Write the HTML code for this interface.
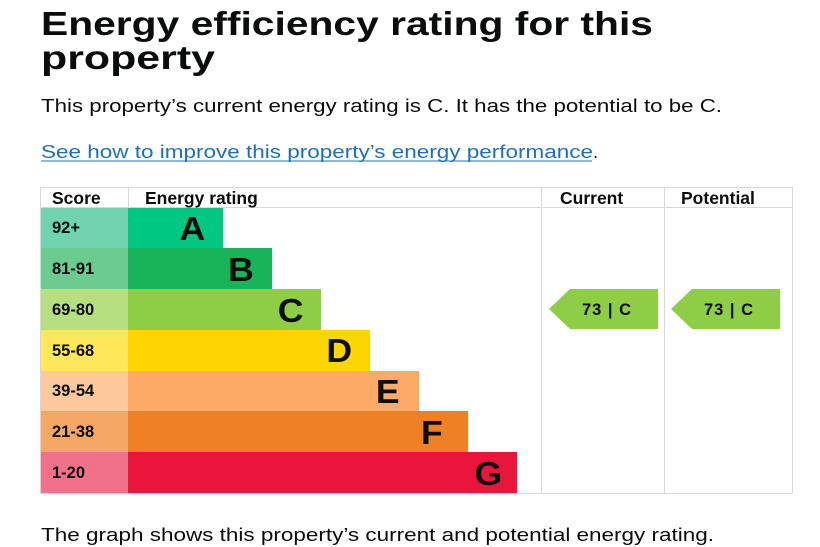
<!DOCTYPE html>
<html><head><meta charset="utf-8"><style>
html,body{margin:0;padding:0;background:#fff;width:820px;height:547px;overflow:hidden}
svg{display:block}
text{font-family:"Liberation Sans",sans-serif}
</style></head><body>
<svg width="820" height="547" viewBox="0 0 820 547">
<text x="41" y="35" font-size="33" font-weight="bold" fill="#0b0c0c" textLength="612" lengthAdjust="spacingAndGlyphs">Energy efficiency rating for this</text>
<text x="41" y="69" font-size="33" font-weight="bold" fill="#0b0c0c" textLength="174" lengthAdjust="spacingAndGlyphs">property</text>
<text x="41" y="112" font-size="18.5" fill="#0b0c0c" textLength="681" lengthAdjust="spacingAndGlyphs">This property’s current energy rating is C. It has the potential to be C.</text>
<text x="41" y="158" font-size="18.5" fill="#1d70b8" textLength="552" lengthAdjust="spacingAndGlyphs">See how to improve this property’s energy performance</text>
<line x1="41" y1="161" x2="592" y2="161" stroke="#1d70b8" stroke-width="1"/>
<text x="593" y="158" font-size="18.5" fill="#0b0c0c">.</text>
<text x="41" y="541" font-size="18.5" fill="#0b0c0c" textLength="673" lengthAdjust="spacingAndGlyphs">The graph shows this property’s current and potential energy rating.</text>

<g stroke="#d8d8d8" stroke-width="1" fill="none">
<line x1="40" y1="187.5" x2="792" y2="187.5"/>
<line x1="40" y1="207.5" x2="792" y2="207.5"/>
<line x1="40.5" y1="187" x2="40.5" y2="493"/>
<line x1="128.5" y1="187" x2="128.5" y2="207"/>
<line x1="541.5" y1="187" x2="541.5" y2="493"/>
<line x1="664.5" y1="187" x2="664.5" y2="493"/>
<line x1="792.5" y1="187" x2="792.5" y2="493"/>
<line x1="40" y1="493.5" x2="792" y2="493.5"/>
</g>
<g font-size="17.5" font-weight="bold" fill="#0b0c0c">
<text x="52" y="204">Score</text>
<text x="145" y="204">Energy rating</text>
<text x="560" y="204">Current</text>
<text x="681" y="204">Potential</text>
</g>

<g>
<rect x="41" y="208" width="87" height="40" fill="#6fd3b0"/><rect x="128" y="208" width="95" height="40" fill="#00c781"/>
<rect x="41" y="248" width="87" height="41" fill="#6ccb8e"/><rect x="128" y="248" width="144" height="41" fill="#19b459"/>
<rect x="41" y="289" width="87" height="41" fill="#b6e07f"/><rect x="128" y="289" width="193" height="41" fill="#8dce46"/>
<rect x="41" y="330" width="87" height="41" fill="#ffe75a"/><rect x="128" y="330" width="242" height="41" fill="#ffd500"/>
<rect x="41" y="371" width="87" height="40" fill="#fdc99c"/><rect x="128" y="371" width="291" height="40" fill="#fcaa65"/>
<rect x="41" y="411" width="87" height="41" fill="#f5a866"/><rect x="128" y="411" width="340" height="41" fill="#ef8023"/>
<rect x="41" y="452" width="87" height="41" fill="#f0728a"/><rect x="128" y="452" width="389" height="41" fill="#e9153b"/>
</g>
<g font-size="16.5" font-weight="bold" fill="#0b0c0c">
<text x="52" y="233">92+</text>
<text x="52" y="274">81-91</text>
<text x="52" y="315">69-80</text>
<text x="52" y="356">55-68</text>
<text x="52" y="396">39-54</text>
<text x="52" y="437">21-38</text>
<text x="52" y="478">1-20</text>
</g>
<g font-size="33" font-weight="bold" fill="#0b0c0c" text-anchor="end" transform="scale(1.08,1)">
<text x="190" y="240">A</text>
<text x="235" y="281">B</text>
<text x="281" y="322">C</text>
<text x="326" y="362">D</text>
<text x="370" y="403">E</text>
<text x="410" y="444">F</text>
<text x="465" y="485">G</text>
</g>

<polygon points="549,309 570,289 658,289 658,329 570,329" fill="#8dce46"/>
<polygon points="671,309 692,289 780,289 780,329 692,329" fill="#8dce46"/>
<g font-size="16.5" font-weight="bold" fill="#0b0c0c" text-anchor="middle" letter-spacing="1">
<text x="607" y="315">73 | C</text>
<text x="729" y="315">73 | C</text>
</g>
</svg>
</body></html>
